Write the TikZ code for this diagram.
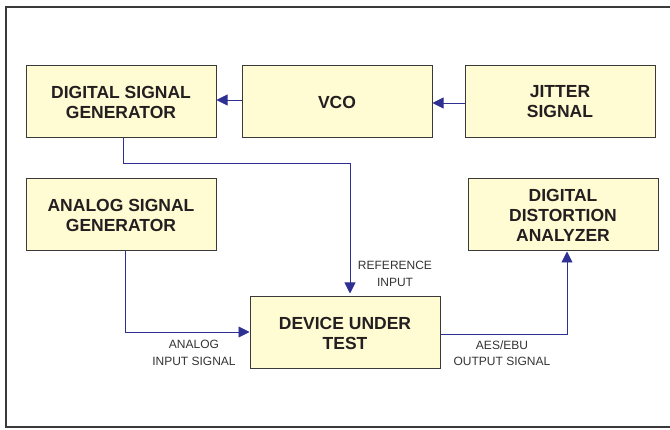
\documentclass[tikz,border=0pt]{standalone}
\usepackage{fontspec}
\setmainfont{Liberation Sans}
\usetikzlibrary{arrows.meta}
\definecolor{boxfill}{HTML}{FFFBD2}
\definecolor{boxline}{HTML}{3A3A3A}
\definecolor{wire}{HTML}{2E3192}
\definecolor{txt}{HTML}{231F20}
\definecolor{lbl}{HTML}{333333}
\tikzset{
  blk/.style={draw=boxline, line width=1pt, fill=boxfill, minimum width=190pt, minimum height=72pt,
    align=center, text=txt, font=\fontsize{17.5}{20}\selectfont\bfseries, inner sep=0pt},
  wireline/.style={draw=wire, line width=0.9pt, -{Triangle[length=11pt,width=11pt]}},
  lab/.style={align=center, text=lbl, font=\fontsize{12}{16.5}\selectfont, inner sep=0pt}
}
\begin{document}
\begin{tikzpicture}[x=1pt,y=-1pt]
\useasboundingbox (0,0) rectangle (670,430);
\draw[line width=1.4pt, draw=boxline] (6,7) rectangle (690,427);
\node[blk] (dsg) at (121,102) {DIGITAL SIGNAL\\GENERATOR};
\node[blk] (vco) at (337,102) {VCO};
\node[blk] (jit) at (560,102) {JITTER\\SIGNAL};
\node[blk] (ana) at (121,215) {ANALOG SIGNAL\\GENERATOR};
\node[blk] (dda) at (563,215) {DIGITAL\\DISTORTION\\ANALYZER};
\node[blk] (dut) at (345,333) {DEVICE UNDER\\TEST};
\draw[wireline] (vco.west |- 0,100) -- (dsg.east |- 0,100);
\draw[wireline] (jit.west |- 0,103) -- (vco.east |- 0,103);
\draw[wireline, shorten >=3pt] (dsg.south -| 123,0) -- (123,163) -| (dut.north -| 350,0);
\draw[wireline] (ana.south -| 125,0) |- (dut.west |- 0,332);
\draw[wireline] (dut.east |- 0,334) -| (dda.south -| 567,0);
\node[lab] (refl) at (395,274) {REFERENCE\\INPUT};
\node[lab] (anal) at (194,353) {ANALOG\\INPUT SIGNAL};
\node[lab] (aesl) at (502,353) {AES/EBU\\OUTPUT SIGNAL};
\end{tikzpicture}
\end{document}
